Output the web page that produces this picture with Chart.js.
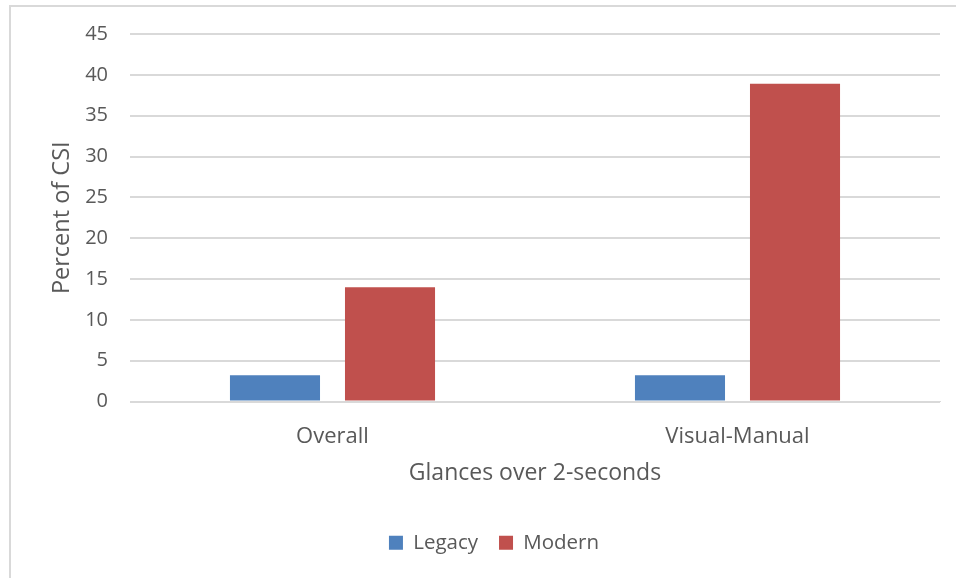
<!DOCTYPE html>
<html>
<head>
<meta charset="utf-8">
<script src="https://cdn.jsdelivr.net/npm/chart.js@4"></script>
<style>
  html, body { margin: 0; padding: 0; background: #fff; }
  #frame {
    position: absolute; left: 9px; top: 5px; width: 960px; height: 600px;
    border-left: 2px solid #d9d9d9; border-top: 2px solid #d9d9d9;
  }
  #wrap { position: absolute; left: 0; top: 0; width: 956px; height: 578px; }
</style>
</head>
<body>
<div id="frame"></div>
<div id="wrap"><canvas id="csi-chart" width="956" height="578"></canvas></div>
<script>
// glances over 2 seconds, percent of CSI
const categories = ['Overall', 'Visual-Manual']
const legacyValues = [3.2, 3.2]
const modernValues = [14, 38.9]
const yTicks = [0, 5, 10, 15, 20, 25, 30, 35, 40, 45]

const textColor = '#595959'
const fontFamily = "'Open Sans', sans-serif"

const ctx = document.getElementById('csi-chart').getContext('2d')

const csiChart = new Chart(ctx, {
  type: 'bar',
  data: {
    labels: categories,
    datasets: [
      {
        label: 'Legacy',
        data: legacyValues,
        backgroundColor: '#4f81bd',
        categoryPercentage: 0.568,
        barPercentage: 0.783,
      },
      {
        label: 'Modern',
        data: modernValues,
        backgroundColor: '#c0504d',
        categoryPercentage: 0.568,
        barPercentage: 0.783,
      },
    ],
  },
  options: {
    responsive: false,
    animation: false,
    layout: {
      padding: { left: 48, right: 16, top: 24, bottom: 15 },
    },
    scales: {
      x: {
        grid: { display: false },
        border: { color: '#d9d9d9', width: 1 },
        afterFit: (axis) => {
          axis.height = 110
        },
        ticks: {
          color: textColor,
          font: { family: fontFamily, size: 22 },
          padding: 14,
        },
        title: {
          display: true,
          text: 'Glances over 2-seconds',
          color: textColor,
          font: { family: fontFamily, size: 23 },
          padding: { top: 0, bottom: 24 },
        },
      },
      y: {
        min: 0,
        max: 45,
        afterBuildTicks: (axis) => {
          axis.ticks = yTicks.map((v) => ({ value: v }))
        },
        afterFit: (axis) => {
          axis.width = 82
        },
        grid: { color: '#d9d9d9', lineWidth: 2, drawTicks: false },
        border: { display: false },
        ticks: {
          color: textColor,
          font: { family: fontFamily, size: 20 },
          padding: 22,
        },
        title: {
          display: true,
          text: 'Percent of CSI',
          color: textColor,
          font: { family: fontFamily, size: 23.5 },
          padding: { top: 0, bottom: 0 },
        },
      },
    },
    plugins: {
      legend: {
        position: 'bottom',
        labels: {
          color: textColor,
          font: { family: fontFamily, size: 20.5 },
          boxWidth: 14,
          boxHeight: 14,
          padding: 21,
        },
      },
      tooltip: { enabled: false },
    },
  },
})
</script>
</body>
</html>
